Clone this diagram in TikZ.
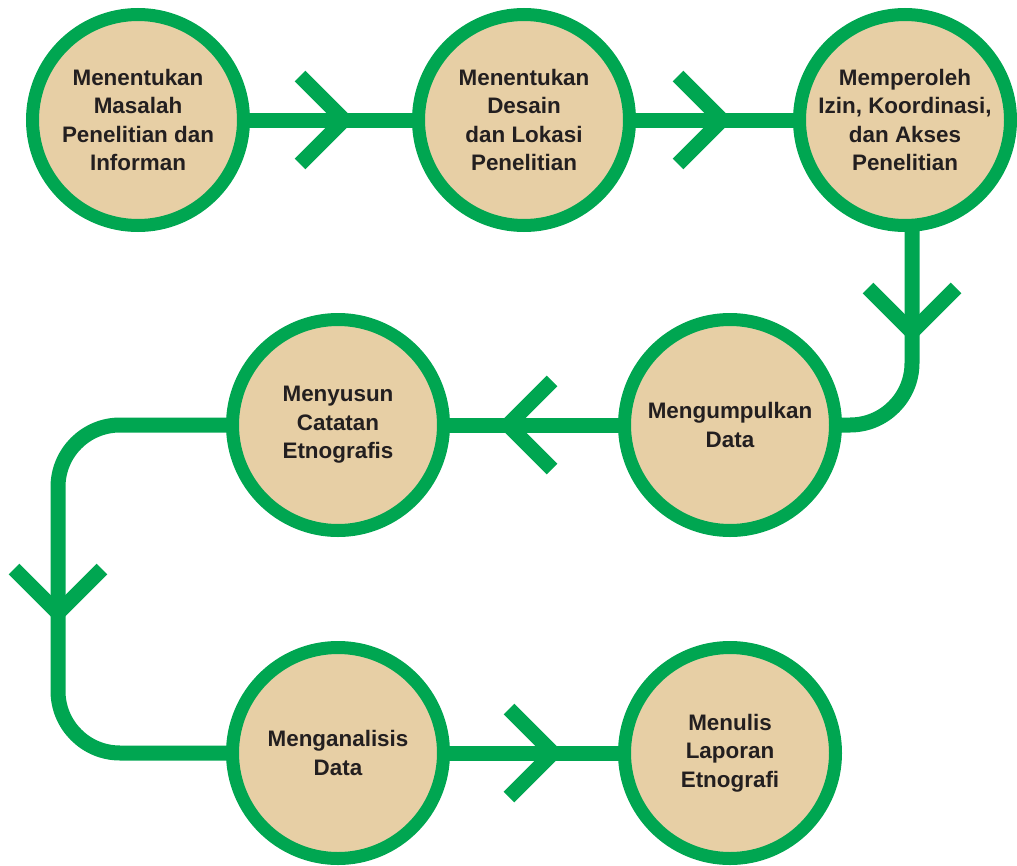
\documentclass[tikz,border=0pt]{standalone}
\usepackage{fontspec}
\setmainfont{Liberation Sans}
\usetikzlibrary{calc,backgrounds}
\definecolor{grn}{HTML}{00A651}
\definecolor{beige}{HTML}{E7CFA5}
\definecolor{txt}{HTML}{231F20}
\begin{document}
\begin{tikzpicture}[x=1bp,y=-1bp,
  stepnode/.style={circle, draw=grn, fill=beige, line width=13bp, minimum size=211bp,
    inner sep=0pt, align=center, text=txt,
    font=\bfseries\fontsize{22.5}{28.5}\selectfont},
  link/.style={draw=grn, line width=15bp},
  chev/.style={draw=grn, line width=15bp, line join=miter, miter limit=10}]
\useasboundingbox (0,0) rectangle (1017,866);

\node[stepnode] (c1) at (138,120) {Menentukan\\Masalah\\Penelitian dan\\Informan};
\node[stepnode] (c2) at (524,120) {Menentukan\\Desain\\dan Lokasi\\Penelitian};
\node[stepnode] (c3) at (905,120) {Memperoleh\\Izin, Koordinasi,\\dan Akses\\Penelitian};
\node[stepnode] (c4) at (730,425) {Mengumpulkan\\Data};
\node[stepnode] (c5) at (338,425) {Menyusun\\Catatan\\Etnografis};
\node[stepnode] (c6) at (338,753) {Menganalisis\\Data};
\node[stepnode] (c7) at (730,753) {Menulis\\Laporan\\Etnografi};

\coordinate (s3) at (912,120);
\coordinate (k1) at (912,425);
\coordinate (k2) at (58,425);
\coordinate (k3) at (58,753);

\coordinate (t1) at (344,120);
\coordinate (t2) at (722,120);
\coordinate (t3) at (912,332);
\coordinate (t4) at (508,425);
\coordinate (t5) at (58,613);
\coordinate (t6) at (553,753);

\begin{scope}[on background layer]
  \draw[link] (c1.center) -- (c2.center);
  \draw[link] (c2.center) -- (c3.center);
  \draw[link, rounded corners=62bp] (s3) -- (k1) -- (c4.center);
  \draw[link] (c4.center) -- (c5.center);
  \draw[link, rounded corners=62bp] (c5.center) -- (k2) -- (k3) -- (c6.center);
  \draw[link] (c6.center) -- (c7.center);

  \draw[chev] ($(t1)+(-44,-44)$) -- (t1) -- ($(t1)+(-44,44)$);
  \draw[chev] ($(t2)+(-44,-44)$) -- (t2) -- ($(t2)+(-44,44)$);
  \draw[chev] ($(t3)+(-44,-44)$) -- (t3) -- ($(t3)+(44,-44)$);
  \draw[chev] ($(t4)+(44,-44)$) -- (t4) -- ($(t4)+(44,44)$);
  \draw[chev] ($(t5)+(-44,-44)$) -- (t5) -- ($(t5)+(44,-44)$);
  \draw[chev] ($(t6)+(-44,-44)$) -- (t6) -- ($(t6)+(-44,44)$);
\end{scope}
\end{tikzpicture}
\end{document}
